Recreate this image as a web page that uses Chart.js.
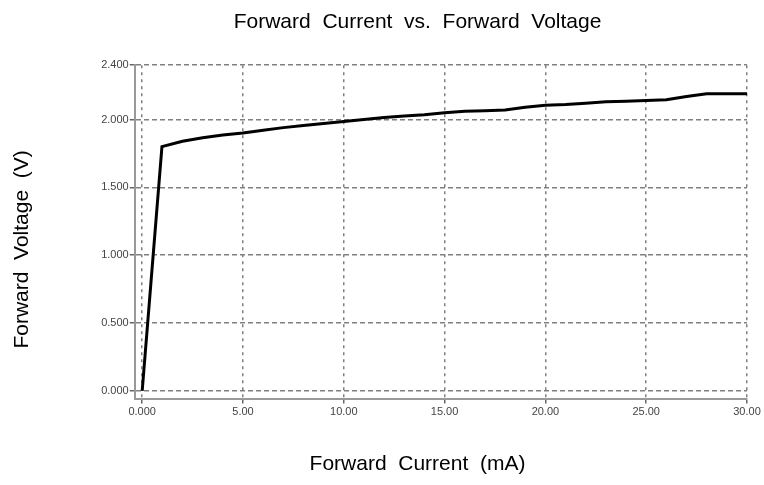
<!DOCTYPE html>
<html>
<head>
    <title>Forward Current vs. Forward Voltage</title>
    <script src="https://cdn.jsdelivr.net/npm/chart.js"></script>
    <style>
        body { margin: 0; background: #fff; }
        #wrap { width: 764px; height: 485px; }
    </style>
</head>
<body>
    <div id="wrap"><canvas id="ivChart"></canvas></div>

    <script>
        // forward current (mA) and forward voltage (V)
        const currentMA = [0, 0.98, 2, 3, 4, 5, 6, 7, 8, 9, 10, 11, 12, 13, 14, 15,
                           16, 17, 18, 19, 20, 21, 22, 23, 24, 25, 26, 27, 28, 29, 30];
        const voltageV  = [0, 1.80, 1.84, 1.865, 1.885, 1.90, 1.92, 1.94, 1.955, 1.97, 1.985,
                           2.00, 2.015, 2.025, 2.035, 2.05, 2.06, 2.065, 2.07, 2.09, 2.105,
                           2.11, 2.12, 2.13, 2.135, 2.14, 2.145, 2.17, 2.19, 2.19, 2.19];

        const xTicks = [0, 5, 10, 15, 20, 25, 30];
        const xTickLabels = ['0.000', '5.00', '10.00', '15.00', '20.00', '25.00', '30.00'];
        const yTicks = [0, 0.5, 1.0, 1.5, 2.0, 2.4];
        const yTickLabels = ['0.000', '0.500', '1.000', '1.500', '2.000', '2.400'];

        const tickFont = { family: "'Liberation Sans Narrow', 'Liberation Sans', Arial", size: 11 };
        const labelFont = { family: "'Liberation Sans', Arial", size: 21, weight: 'normal' };

        // trailing spaces nudge the centred titles off-centre, as in the original
        const pad = n => '\u00a0'.repeat(n);

        const ctx = document.getElementById('ivChart').getContext('2d');
        const ivChart = new Chart(ctx, {
            type: 'line',
            data: {
                datasets: [{
                    data: currentMA.map((c, i) => ({ x: c, y: voltageV[i] })),
                    borderColor: '#000',
                    borderWidth: 3,
                    pointRadius: 0,
                    tension: 0
                }]
            },
            options: {
                responsive: true,
                maintainAspectRatio: false,
                animation: false,
                layout: { padding: { left: 10, right: 17, top: 6, bottom: 8 } },
                plugins: {
                    legend: { display: false },
                    tooltip: { enabled: false },
                    title: {
                        display: true,
                        fullSize: false,
                        text: 'Forward  Current  vs.  Forward  Voltage' + pad(8),
                        color: '#000',
                        font: labelFont,
                        padding: { top: 4, bottom: 30 }
                    }
                },
                scales: {
                    x: {
                        type: 'linear',
                        min: -0.37,
                        max: 30,
                        afterBuildTicks: s => { s.ticks = xTicks.map(v => ({ value: v })); },
                        ticks: {
                            color: '#444',
                            font: tickFont,
                            maxRotation: 0,
                            padding: 2,
                            callback: (v, i) => xTickLabels[i]
                        },
                        grid: {
                            color: '#808080',
                            lineWidth: 1.5,
                            tickColor: '#666',
                            tickLength: 5,
                            tickBorderDash: []
                        },
                        border: { display: true, color: '#999', width: 2, dash: [3, 4] },
                        title: {
                            display: true,
                            text: 'Forward  Current  (mA)' + pad(8),
                            color: '#000',
                            font: labelFont,
                            padding: { top: 31, bottom: 0 }
                        }
                    },
                    y: {
                        type: 'linear',
                        min: -0.057,
                        max: 2.4,
                        afterBuildTicks: s => { s.ticks = yTicks.map(v => ({ value: v })); },
                        ticks: {
                            color: '#444',
                            font: tickFont,
                            padding: 1,
                            callback: (v, i) => yTickLabels[i]
                        },
                        grid: {
                            color: '#808080',
                            lineWidth: 1.5,
                            tickColor: '#666',
                            tickLength: 5,
                            tickBorderDash: []
                        },
                        border: { display: true, color: '#999', width: 2, dash: [5, 3] },
                        title: {
                            display: true,
                            text: 'Forward  Voltage  (V)' + pad(6),
                            color: '#000',
                            font: labelFont,
                            padding: { top: 0, bottom: 65 }
                        }
                    }
                }
            }
        });
    </script>
</body>
</html>
